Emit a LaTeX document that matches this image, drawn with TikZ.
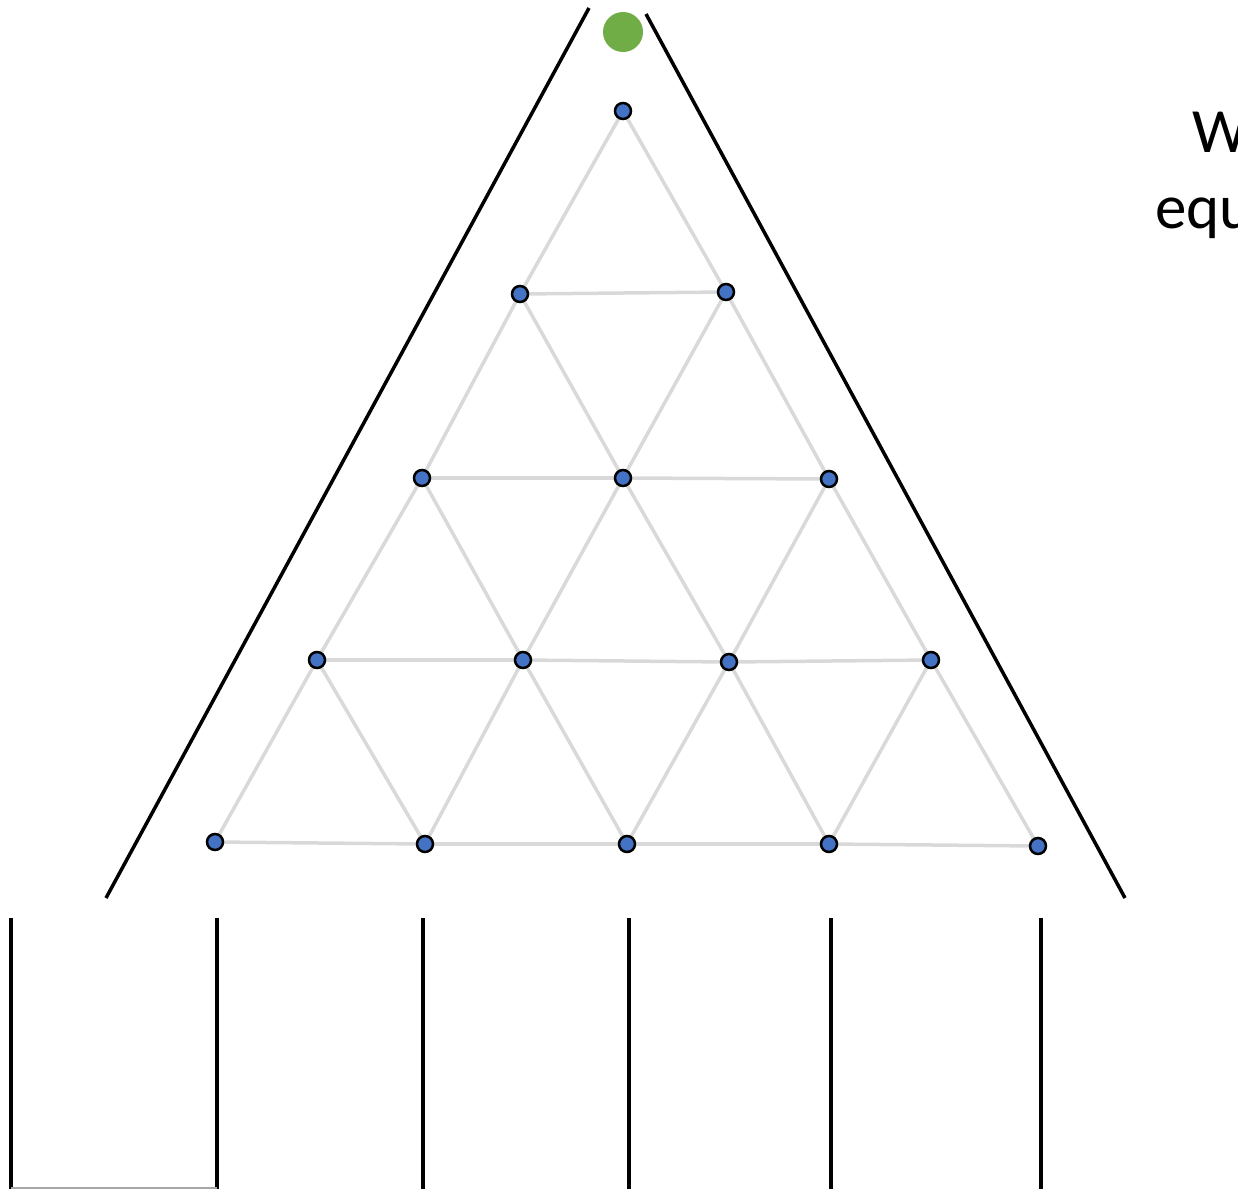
\documentclass[tikz,border=0pt]{standalone}
\usepackage{fontspec}
\setmainfont{Carlito}
\usetikzlibrary{backgrounds}
\definecolor{dotblue}{HTML}{4472C4}
\definecolor{dotgreen}{HTML}{70AD47}
\definecolor{gridgrey}{HTML}{D9D9D9}
\tikzset{
  dot/.style={circle, draw=black, line width=2.5pt, fill=dotblue, inner sep=0pt, minimum size=16pt},
  gridline/.style={draw=gridgrey, line width=3.5pt},
  wall/.style={draw=black, line width=3.5pt},
  post/.style={draw=black, line width=3.5pt},
  txt/.style={font=\fontsize{63}{75}\selectfont, anchor=base west, inner sep=0pt}
}
\begin{document}
\begin{tikzpicture}[x=1pt,y=-1pt]
\useasboundingbox (0,0) rectangle (1238,1189);
\clip (0,0) rectangle (1238,1189);
% dots
\node[dot] (a0) at (623,111) {};
\node[dot] (b0) at (520,294) {};
\node[dot] (b1) at (726,292) {};
\node[dot] (c0) at (422,478) {};
\node[dot] (c1) at (623,478) {};
\node[dot] (c2) at (829,479) {};
\node[dot] (d0) at (317,660) {};
\node[dot] (d1) at (523,660) {};
\node[dot] (d2) at (729,662) {};
\node[dot] (d3) at (931,660) {};
\node[dot] (e0) at (215,842) {};
\node[dot] (e1) at (425,844) {};
\node[dot] (e2) at (627,844) {};
\node[dot] (e3) at (829,844) {};
\node[dot] (e4) at (1038,846) {};
% green ball
\node[circle, fill=dotgreen, inner sep=0pt, minimum width=40pt, minimum height=38pt] (ball) at (623,32) {};
% grid
\begin{pgfonlayer}{background}
\foreach \p/\q in {a0/b0,a0/b1,b0/b1,b0/c0,b0/c1,b1/c1,b1/c2,c0/c1,c1/c2,
  c0/d0,c0/d1,c1/d1,c1/d2,c2/d2,c2/d3,d0/d1,d1/d2,d2/d3,
  d0/e0,d0/e1,d1/e1,d1/e2,d2/e2,d2/e3,d3/e3,d3/e4,e0/e1,e1/e2,e2/e3,e3/e4}
  \draw[gridline] (\p.center) -- (\q.center);
\end{pgfonlayer}
% walls
\coordinate (lt) at (589,8);
\coordinate (lb) at (106,898);
\coordinate (rt) at (646,14);
\coordinate (rb) at (1125,898);
\draw[wall] (lt) -- (lb);
\draw[wall] (rt) -- (rb);
% posts
\foreach \x [count=\i] in {11,217,423,629,831,1041}{
  \coordinate (pt\i) at (\x,918);
  \coordinate (pb\i) at (\x,1189);
  \draw[post] (pt\i) -- (pb\i);
}
\coordinate (fl) at (11,1187.5);
\coordinate (fr) at (217,1187.5);
\draw[draw=gray!70, line width=2pt] (fl) -- (fr);
% text
\node[txt] (t1) at (1192,152) {W};
\node[txt] (t2) at (1155,228) {equ};
\end{tikzpicture}
\end{document}
